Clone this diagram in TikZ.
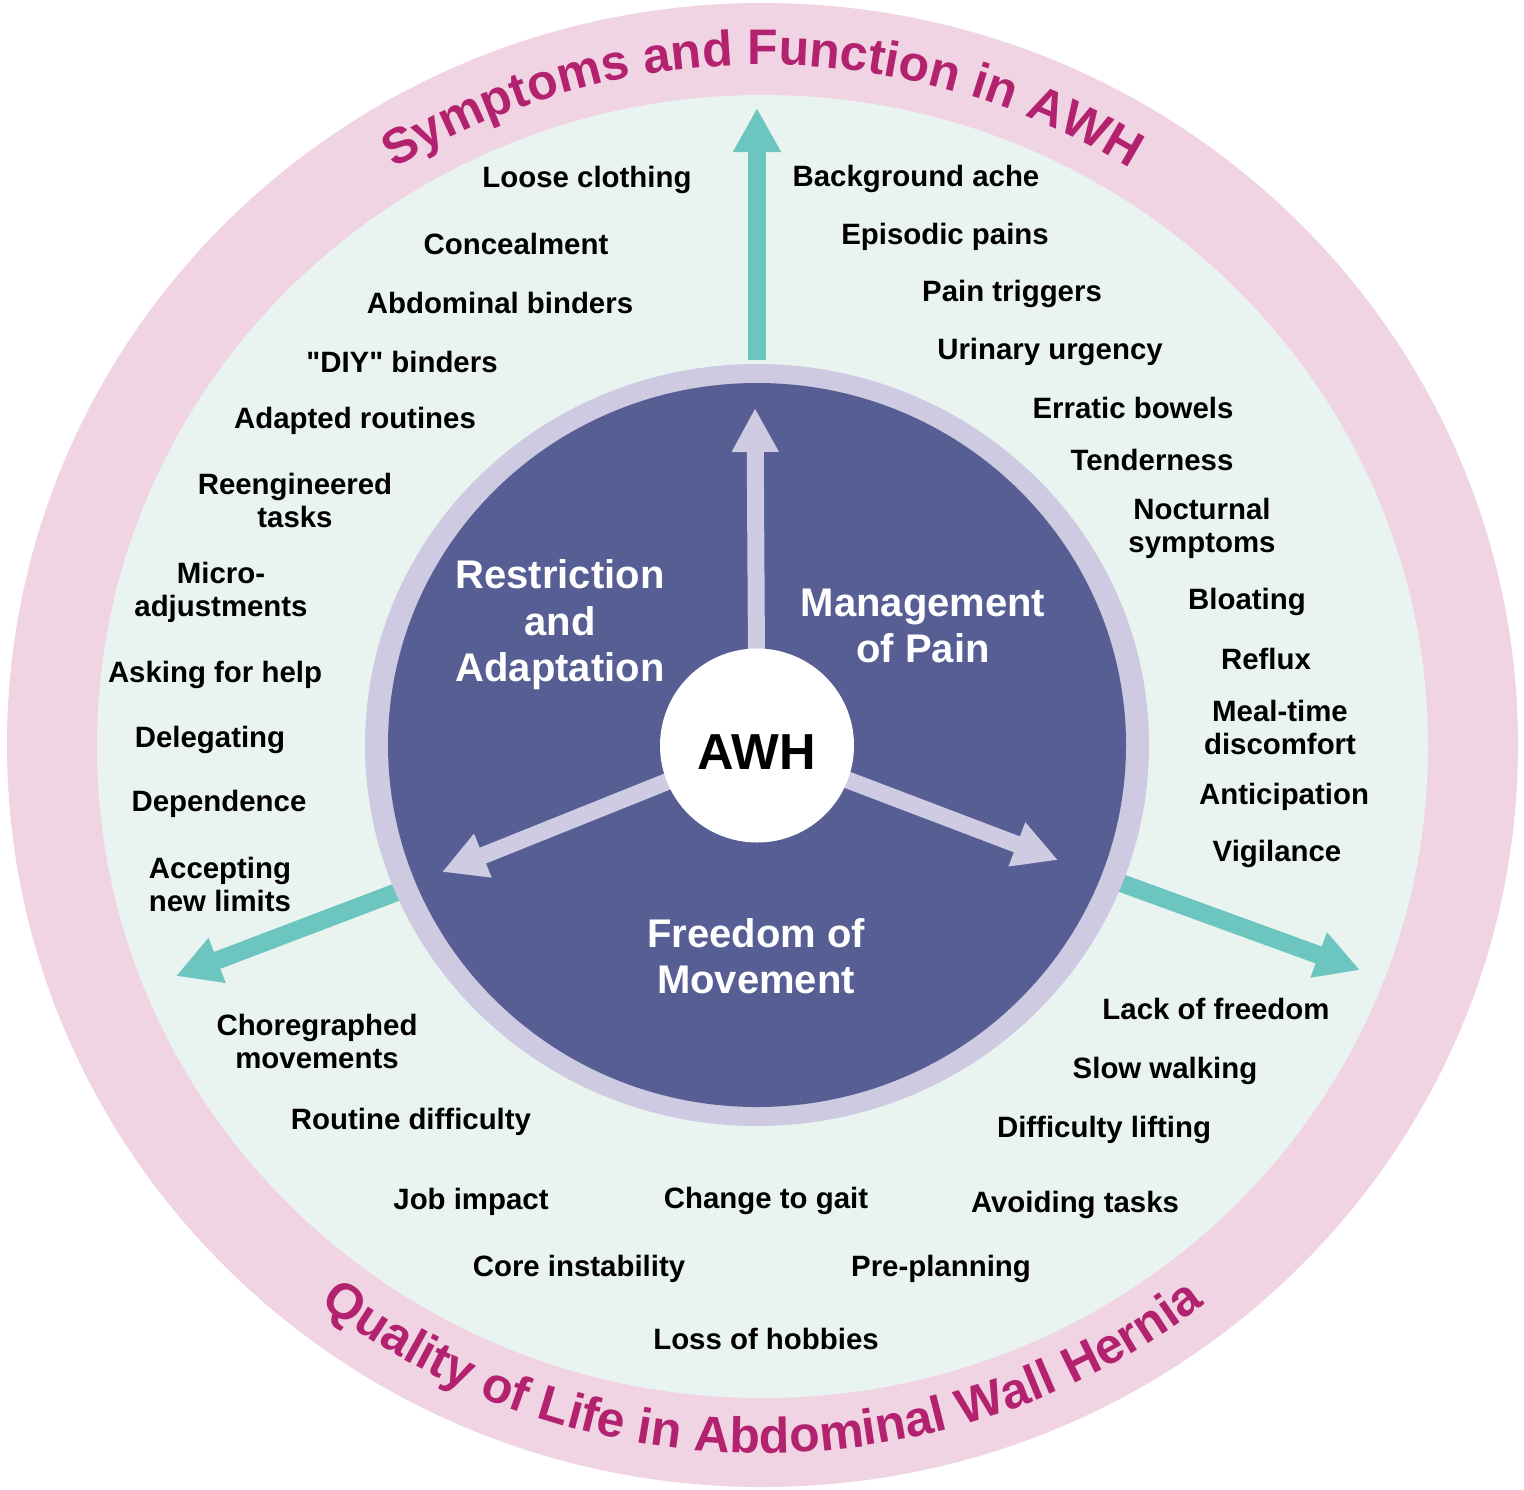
\documentclass[tikz,border=0pt]{standalone}
\usepackage{fontspec}
\setmainfont{Liberation Sans}
\usetikzlibrary{arrows.meta,decorations.text}
\definecolor{pinkbg}{RGB}{240,212,227}
\definecolor{mintbg}{RGB}{233,244,241}
\definecolor{lavring}{RGB}{206,202,225}
\definecolor{navy}{RGB}{86,94,148}
\definecolor{tealc}{RGB}{108,197,191}
\definecolor{lavarrow}{RGB}{207,203,227}
\definecolor{titlemag}{RGB}{178,34,110}
\pgfdeclarelayer{bg}
\pgfdeclarelayer{mid}
\pgfsetlayers{bg,mid,main}
\begin{document}
\begin{tikzpicture}[x=0.5pt,y=0.5pt,
  lbl/.style={font=\bfseries\fontsize{14.7}{16.5}\selectfont, text=black, align=center, inner sep=0pt},
  inlbl/.style={font=\bfseries\fontsize{20}{23.3}\selectfont, text=white, align=center, inner sep=0pt},
  tealarrow/.style={draw=tealc, line width=9pt, -{Triangle[width=22.5pt,length=22pt]}},
  lavarr/.style={draw=lavarrow, line width=8.5pt, -{Triangle[width=22pt,length=22pt]}},
  titletext/.style={decorate, decoration={text along path, text align=center,
     text color=titlemag, text={|\bfseries\fontsize{25}{25}\selectfont|#1}}}
]
\useasboundingbox (0,0) rectangle (1524,-1489);
\begin{pgfonlayer}{bg}
  \fill[white] (0,0) rectangle (1524,-1489);
  \fill[pinkbg] (762.5,-745) ellipse [x radius=755.5, y radius=742];
  \fill[mintbg] (762.5,-746.5) ellipse [x radius=665.5, y radius=651.5];
  % teal arrows
  \coordinate (tTopS) at (757,-360);
  \coordinate (tTopE) at (757,-108);
  \coordinate (tLeftS) at (405,-889);
  \coordinate (tLeftE) at (176,-976);
  \coordinate (tRightS) at (1110,-879);
  \coordinate (tRightE) at (1360,-970);
  \draw[tealarrow] (tTopS) -- (tTopE);
  \draw[tealarrow] (tLeftS) -- (tLeftE);
  \draw[tealarrow] (tRightS) -- (tRightE);
  \fill[lavring] (757,-745) ellipse [x radius=392, y radius=381];
  \fill[navy] (757,-745) ellipse [x radius=369, y radius=362];
  % titles
  \path[titletext={Symptoms and Function in AWH}]
    (762.5,-745) ++(140:694 and 680) arc [start angle=140, end angle=40, x radius=694, y radius=680];
  \path[titletext={Quality of Life in Abdominal Wall Hernia}]
    (762.5,-745) ++(218:722 and 708) arc [start angle=218, end angle=322, x radius=722, y radius=708];
\end{pgfonlayer}

\node[circle, fill=white, minimum size=97pt, inner sep=0pt] (awh) at (757,-745.5) {};
\node[font=\bfseries\fontsize{25.3}{25.3}\selectfont, inner sep=0pt] (awhtext) at (757,-752) {AWH};

\begin{pgfonlayer}{mid}
  \coordinate (iTop) at (755,-408);
  \coordinate (iLeft) at (442,-872);
  \coordinate (iRight) at (1058,-860);
  \draw[lavarr] (awh.center) -- (iTop);
  \draw[lavarr] (awh.center) -- (iLeft);
  \draw[lavarr] (awh.center) -- (iRight);
\end{pgfonlayer}

% inner labels
\node[inlbl] (restr) at (560,-625) {Restriction\\and\\Adaptation};
\node[inlbl] (mgmt) at (923,-626) {Management\\of Pain};
\node[inlbl] (free) at (756,-956) {Freedom of\\Movement};

% left column
\node[lbl] (l1) at (587,-180) {Loose clothing};
\node[lbl] (l2) at (516,-244) {Concealment};
\node[lbl] (l3) at (500,-303) {Abdominal binders};
\node[lbl] (l4) at (402,-362) {\textquotedbl DIY\textquotedbl{} binders};
\node[lbl] (l5) at (355,-421) {Adapted routines};
\node[lbl] (l6) at (295,-500) {Reengineered\\tasks};
\node[lbl] (l7) at (221,-592) {Micro-\\adjustments};
\node[lbl] (l8) at (215,-675) {Asking for help};
\node[lbl] (l9) at (210,-740) {Delegating};
\node[lbl] (l10) at (219,-804) {Dependence};
\node[lbl] (l11) at (220,-884) {Accepting\\new limits};

% right column
\node[lbl] (r1) at (916,-179) {Background ache};
\node[lbl] (r2) at (945,-237) {Episodic pains};
\node[lbl] (r3) at (1012,-294) {Pain triggers};
\node[lbl] (r4) at (1050,-352) {Urinary urgency};
\node[lbl] (r5) at (1133,-408) {Erratic bowels};
\node[lbl] (r6) at (1152,-460) {Tenderness};
\node[lbl] (r7) at (1202,-528) {Nocturnal\\symptoms};
\node[lbl] (r8) at (1247,-602) {Bloating};
\node[lbl] (r9) at (1266,-659) {Reflux};
\node[lbl] (r10) at (1280,-727) {Meal-time\\discomfort};
\node[lbl] (r11) at (1284,-797) {Anticipation};
\node[lbl] (r12) at (1277,-854) {Vigilance};

% bottom
\node[lbl] (b1) at (1216,-1009) {Lack of freedom};
\node[lbl] (b2) at (1165,-1071) {Slow walking};
\node[lbl] (b3) at (1104,-1130) {Difficulty lifting};
\node[lbl] (b4) at (1075,-1205) {Avoiding tasks};
\node[lbl] (b5) at (941,-1269) {Pre-planning};
\node[lbl] (b6) at (766,-1339) {Loss of hobbies};
\node[lbl] (b7) at (579,-1269) {Core instability};
\node[lbl] (b8) at (471,-1202) {Job impact};
\node[lbl] (b9) at (766,-1201) {Change to gait};
\node[lbl] (b10) at (411,-1122) {Routine difficulty};
\node[lbl] (b11) at (317,-1041) {Choregraphed\\movements};
\end{tikzpicture}
\end{document}
